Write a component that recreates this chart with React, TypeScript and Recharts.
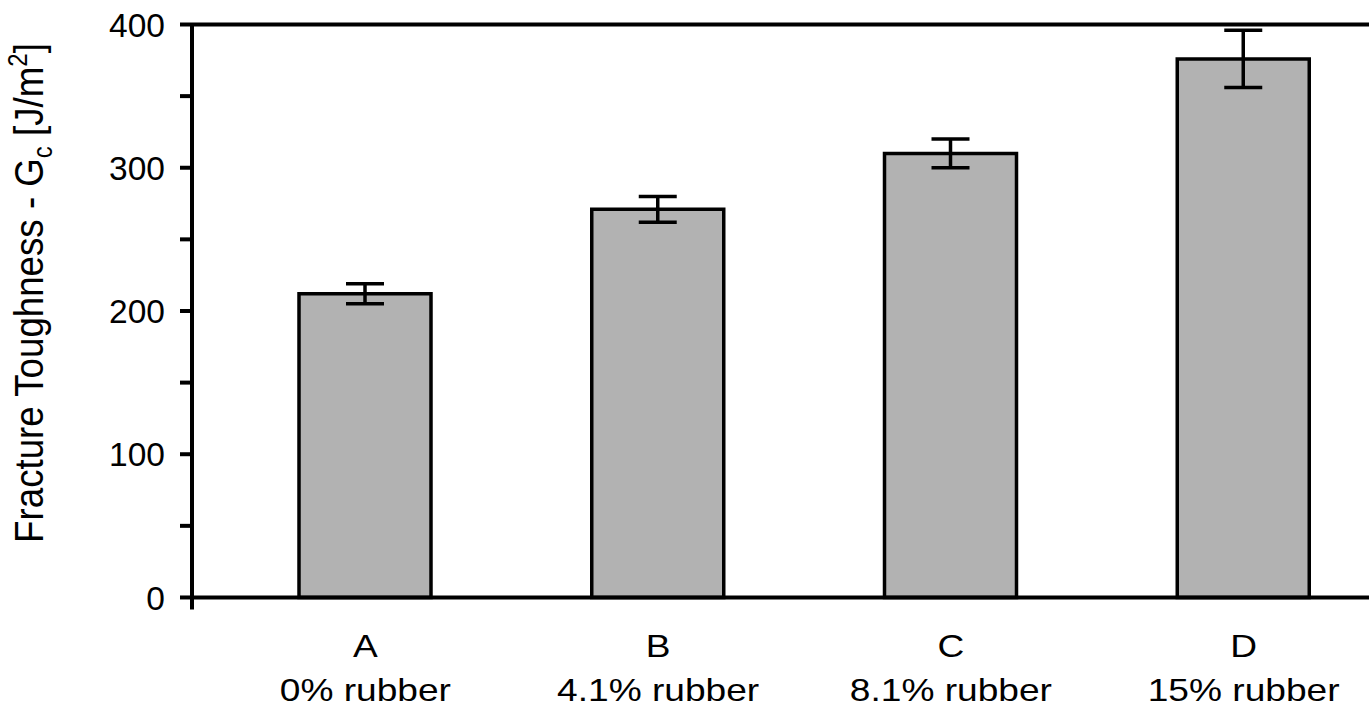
import React from 'react';
import { BarChart, Bar, XAxis, YAxis, ErrorBar, ReferenceLine, Label } from 'recharts';

const categories = ['A', 'B', 'C', 'D'];
const rubberLabels = ['0% rubber', '4.1% rubber', '8.1% rubber', '15% rubber'];
const toughness = [212, 271, 310, 376];
const errors = [7, 9, 10, 20];
const yTicks = [0, 50, 100, 150, 200, 250, 300, 350, 400];
const yLabelTicks = [0, 100, 200, 300, 400];

const data = categories.map((c, i) => ({
  cat: c,
  sub: rubberLabels[i],
  value: toughness[i],
  err: errors[i],
}));

const FONT = '"Liberation Sans", Arial, Helvetica, sans-serif';

const YTick = (props: any) => {
  const { x, y, payload } = props;
  if (!yLabelTicks.includes(payload.value)) return <g />;
  return (
    <text x={x} y={y} dy="0.36em" textAnchor="end" fontFamily={FONT} fontSize={33.5} fill="#000">
      {payload.value}
    </text>
  );
};

const XTick = (props: any) => {
  const { x, y, index } = props;
  return (
    <g transform={`translate(${x},${y}) scale(1.16,1)`}>
      <text x={0} y={47.5} textAnchor="middle" fontFamily={FONT} fontSize={32} fill="#000">
        {categories[index]}
      </text>
      <text x={0} y={91.5} textAnchor="middle" fontFamily={FONT} fontSize={32} fill="#000">
        {rubberLabels[index]}
      </text>
    </g>
  );
};

const renderTitle = () => (
  <text
    transform="translate(43,293) scale(1.12,1) rotate(-90)"
    textAnchor="middle"
    fontFamily={FONT}
    fontSize={36.7}
    fill="#000"
  >
    Fracture Toughness - G
    <tspan fontSize={24} dy={8}>c</tspan>
    <tspan dy={-8}> [J/m</tspan>
    <tspan fontSize={24} dy={-14}>2</tspan>
    <tspan dy={14}>]</tspan>
  </text>
);

export default function App() {
  return (
    <div
      style={{
        position: 'absolute',
        left: 0,
        top: 0,
        width: 1369,
        height: 711,
        overflow: 'hidden',
        background: '#fff',
      }}
    >
      <BarChart
        width={1390}
        height={711}
        data={data}
        margin={{ top: 24.5, right: 0, bottom: 0, left: 0 }}
      >
        <XAxis
          dataKey="cat"
          height={101.5}
          padding={{ left: 27, right: 0 }}
          axisLine={false}
          tickLine={false}
          tickSize={0}
          tickMargin={0}
          interval={0}
          tick={<XTick />}
        />
        <YAxis
          type="number"
          width={192}
          domain={[-8.4, 400]}
          allowDataOverflow
          ticks={yTicks}
          interval={0}
          tickSize={12}
          tickMargin={15}
          axisLine={{ stroke: '#000', strokeWidth: 4 }}
          tickLine={{ stroke: '#000', strokeWidth: 4 }}
          tick={<YTick />}
        >
          <Label content={renderTitle} />
        </YAxis>
        <ReferenceLine y={0} stroke="#000" strokeWidth={4} ifOverflow="visible" />
        <ReferenceLine y={400} stroke="#000" strokeWidth={4} ifOverflow="visible" />
        <Bar
          dataKey="value"
          fill="#b2b2b2"
          stroke="#000"
          strokeWidth={3.5}
          barSize={132}
          isAnimationActive={false}
        >
          <ErrorBar dataKey="err" width={19} stroke="#000" strokeWidth={3.5} isAnimationActive={false} />
        </Bar>
      </BarChart>
    </div>
  );
}
